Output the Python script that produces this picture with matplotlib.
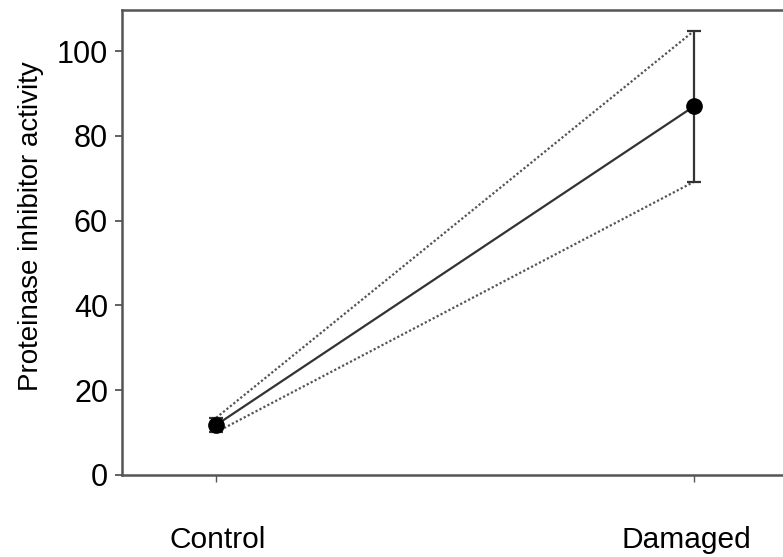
import matplotlib
matplotlib.use("Agg")
import matplotlib.pyplot as plt

categories = ["Control", "Damaged"]
means = [11.8, 87.0]
sems = [1.7, 17.8]
yticks = [0, 20, 40, 60, 80, 100]

plt.rcParams['font.family'] = ['Liberation Sans', 'DejaVu Sans']

fig = plt.figure(figsize=(7.83, 5.57), dpi=100)
# axes extends beyond right edge (right spine cropped)
ax = fig.add_axes([122/783, (557-475)/557, 700/783, 465/557])

x = list(range(len(categories)))
lc = '#333333'
ax.plot(x, means, color=lc, lw=1.6, zorder=3)
upper = [m + s for m, s in zip(means, sems)]
lower = [m - s for m, s in zip(means, sems)]
ax.plot(x, upper, color='#555555', lw=1.6, ls=(0, (1, 1)), zorder=2)
ax.plot(x, lower, color='#555555', lw=1.6, ls=(0, (1, 1)), zorder=2)
ax.errorbar(x, means, yerr=sems, fmt='o', color='black', ecolor=lc,
            elinewidth=1.6, capsize=5, capthick=1.6, markersize=11, zorder=4)

ax.set_xlim(-0.197, -0.197 + 700/478)
ax.set_ylim(0, 109.7)
ax.set_xticks(x)
ax.set_xticklabels([])
offsets_px = [2, -8]
for xi, name, dx in zip(x, categories, offsets_px):
    ax.annotate(name, xy=(xi, 0), xycoords=('data', 'axes fraction'),
                xytext=(dx * 0.72, -36.5), textcoords='offset points',
                ha='center', va='top', fontsize=21.5, annotation_clip=False)
ax.set_yticks(yticks)
ax.tick_params(axis='y', labelsize=22, direction='out', length=5, width=1.3, color='#555555', pad=5)
ax.tick_params(axis='x', direction='out', length=5, width=1.0, color='#555555')
ax.set_ylabel('Proteinase inhibitor activity', fontsize=20)
ax.yaxis.set_label_coords(-0.112, 0.535)
for s in ['left', 'bottom', 'top']:
    ax.spines[s].set_color('#555555')
    ax.spines[s].set_linewidth(1.8)
ax.spines['right'].set_visible(False)

fig.savefig('out.png', dpi=100)
